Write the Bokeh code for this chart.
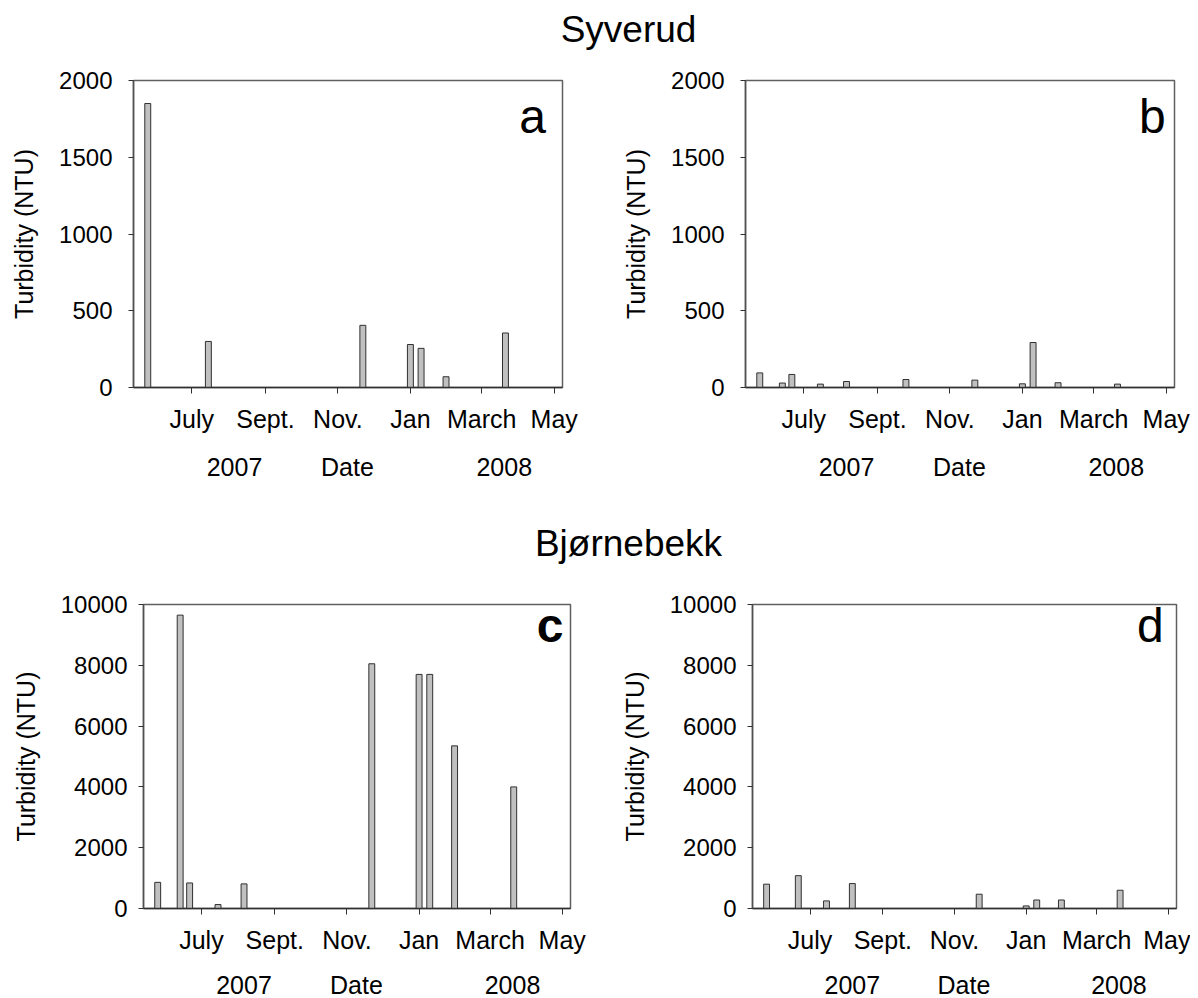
import pandas as pd
from bokeh.plotting import figure
from bokeh.layouts import column, row
from bokeh.models import FixedTicker, LinearAxis, Label, Range1d
from bokeh.embed import file_html
from bokeh.resources import INLINE

FONT = "Liberation Sans"

# ---------------- data ----------------
site_titles = ["Syverud", "Bjørnebekk"]
panel_letters = ["a", "b", "c", "d"]

a_dates = ["2007-05-25", "2007-07-15", "2007-11-22", "2008-01-01", "2008-01-10", "2008-01-31", "2008-03-21"]
a_values = [1850, 300, 405, 280, 255, 70, 355]

b_dates = ["2007-05-25", "2007-06-13", "2007-06-21", "2007-07-15", "2007-08-06", "2007-09-25",
           "2007-11-22", "2008-01-01", "2008-01-10", "2008-01-31", "2008-03-21"]
b_values = [95, 29, 85, 22, 39, 52, 48, 24, 293, 31, 22]

c_dates = ["2007-05-25", "2007-06-13", "2007-06-21", "2007-07-15", "2007-08-06",
           "2007-11-22", "2008-01-01", "2008-01-10", "2008-01-31", "2008-03-21"]
c_values = [860, 9650, 840, 130, 810, 8050, 7700, 7700, 5350, 4000]

d_dates = ["2007-05-25", "2007-06-21", "2007-07-15", "2007-08-06",
           "2007-11-22", "2008-01-01", "2008-01-10", "2008-01-31", "2008-03-21"]
d_values = [800, 1080, 250, 820, 470, 85, 280, 280, 600]

month_tick_dates = ["2007-07-01", "2007-09-01", "2007-11-01", "2008-01-01", "2008-03-01", "2008-05-01"]
month_labels = ["July", "Sept.", "Nov.", "Jan", "March", "May"]
year_label_dates = ["2007-08-06", "2008-03-20"]
year_labels = ["2007", "2008"]
x_label = "Date"
y_label = "Turbidity (NTU)"
y_ticks_top = [0, 500, 1000, 1500, 2000]
y_ticks_bottom = [0, 2000, 4000, 6000, 8000, 10000]
x_span = ["2007-05-13", "2008-05-08"]

EPOCH = pd.Timestamp("2007-01-01")


def days(ds):
    return [int((pd.Timestamp(d) - EPOCH).days) for d in ds]


X0, X1 = days(x_span)
XC = int(round((X0 + X1) / 2))


def panel(dates, vals, ymax, yticks, letter, letter_x, letter_y, bold,
          fw, fh, bl, br, bt, bb, lab_standoff, year_standoff):
    p = figure(frame_width=fw, frame_height=fh,
               x_range=Range1d(X0, X1), y_range=Range1d(0, ymax),
               output_backend="svg", toolbar_location=None,
               min_border_left=bl, min_border_right=br,
               min_border_top=bt, min_border_bottom=bb)
    p.xgrid.visible = False
    p.ygrid.visible = False
    p.outline_line_color = "#606060"
    p.outline_line_width = 1.5
    p.background_fill_color = "white"
    p.border_fill_color = "white"

    p.vbar(x=days(dates), top=vals, width=5, bottom=0,
           fill_color="#c0c0c0", line_color="#303030", line_width=1)

    xa = p.xaxis[0]
    mt = days(month_tick_dates)
    xa.ticker = FixedTicker(ticks=mt)
    xa.major_label_overrides = dict(zip(mt, month_labels))
    xa.minor_tick_line_color = None
    xa.major_tick_in = 0
    xa.major_tick_out = 6
    xa.major_tick_line_color = "#303030"
    xa.axis_line_color = "#303030"
    xa.axis_line_width = 1.5
    xa.major_label_text_font = FONT
    xa.major_label_text_font_size = "25px"
    xa.major_label_text_color = "black"
    xa.major_label_standoff = 11

    yt = days(year_label_dates)
    ax2 = LinearAxis(ticker=FixedTicker(ticks=[yt[0], XC, yt[1]]),
                     major_label_overrides={yt[0]: year_labels[0], XC: x_label, yt[1]: year_labels[1]},
                     axis_line_color=None, major_tick_line_color=None,
                     minor_tick_line_color=None, major_tick_in=0, major_tick_out=0,
                     major_label_standoff=year_standoff,
                     major_label_text_font=FONT, major_label_text_font_size="25px",
                     major_label_text_color="black")
    p.add_layout(ax2, "below")

    ya = p.yaxis[0]
    ya.ticker = FixedTicker(ticks=yticks)
    ya.minor_tick_line_color = None
    ya.major_tick_in = 0
    ya.major_tick_out = 5
    ya.major_tick_line_color = "#303030"
    ya.axis_line_color = "#505050"
    ya.axis_line_width = 1.5
    ya.major_label_text_font = FONT
    ya.major_label_text_font_size = "24px"
    ya.major_label_text_color = "black"
    ya.major_label_standoff = lab_standoff
    ya.axis_label = y_label
    ya.axis_label_text_font = FONT
    ya.axis_label_text_font_size = "25px"
    ya.axis_label_text_font_style = "normal"
    ya.axis_label_text_color = "black"
    ya.axis_label_standoff = 18

    p.add_layout(Label(x=letter_x, y=letter_y, text=letter, text_align="right",
                       text_baseline="middle", text_font=FONT, text_font_size="48px",
                       text_font_style="bold" if bold else "normal", text_color="black"))
    return p


def title_fig(text, h, y_mid):
    t = figure(frame_width=1190, frame_height=h, x_range=Range1d(0, 1190), y_range=Range1d(0, h),
               output_backend="svg", toolbar_location=None,
               min_border_left=0, min_border_right=0, min_border_top=0, min_border_bottom=0)
    t.axis.visible = False
    t.xgrid.visible = False
    t.ygrid.visible = False
    t.outline_line_color = None
    t.add_layout(Label(x=628, y=y_mid, text=text, text_align="center",
                       text_baseline="middle", text_font=FONT, text_font_size="37px",
                       text_color="black"))
    return t


pa = panel(a_dates, a_values, 2000, y_ticks_top, panel_letters[0], 479, 1763, False,
           429, 307, 133, 50, 22, 113, 16, 17)
pb = panel(b_dates, b_values, 2000, y_ticks_top, panel_letters[1], 485.5, 1763, False,
           429, 307, 133, 16, 22, 113, 16, 17)
pc = panel(c_dates, c_values, 10000, y_ticks_bottom, panel_letters[2], 487, 9306, True,
           427, 304, 143, 47, 24, 88, 11, 14)
pd_ = panel(d_dates, d_values, 10000, y_ticks_bottom, panel_letters[3], 482, 9306, False,
            424, 304, 135, 14, 24, 88, 11, 14)

t1 = title_fig(site_titles[0], 58, 29)
t2 = title_fig(site_titles[1], 80, 37)

layout = column(t1, row(pa, pb), t2, row(pc, pd_))

open("out.html", "w").write(file_html(layout, INLINE))
